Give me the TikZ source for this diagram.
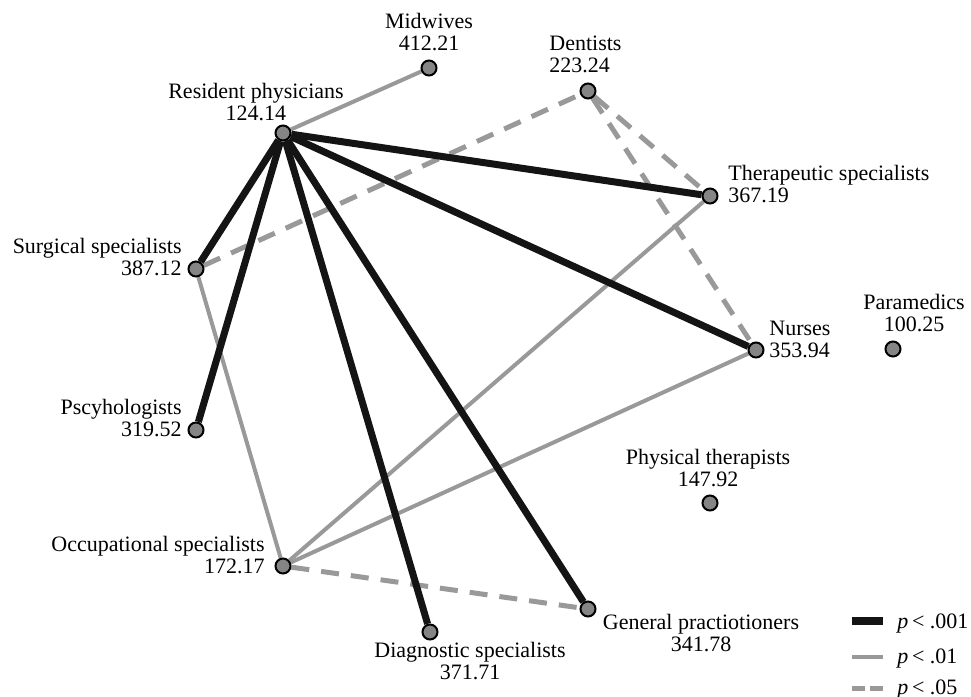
\documentclass[tikz,border=0pt]{standalone}
\usepackage{fontspec}
\setmainfont{Liberation Serif}
\usepackage{tikz}
\usetikzlibrary{backgrounds}
\definecolor{edgegray}{gray}{0.6}
\definecolor{dotgray}{gray}{0.52}
\tikzset{prof/.style={circle,draw=black,line width=1pt,fill=dotgray,inner sep=0pt,minimum size=7.5pt}}
\tikzset{lbl/.style={inner sep=0pt,font=\fontsize{11}{10.8}\selectfont}}
\tikzset{strong/.style={draw=black!92,line width=3.5pt}}
\tikzset{medium/.style={draw=edgegray,line width=2pt}}
\tikzset{weak/.style={draw=edgegray,line width=2.5pt,dash pattern=on 9pt off 6pt}}

\begin{document}
\begin{tikzpicture}[x=0.5pt,y=-0.5pt]
\useasboundingbox (0,0) rectangle (971,697);
% professions
\foreach \n/\px/\py in {RP/283/133, MW/429/68, DE/588/91, TS/710/196, SS/196/269, NU/756/350,
	PM/893/349, PS/196/430, PT/710/503, OS/283/566, DS/430/632, GP/588/609} {
	\node[prof] (\n) at (\px,\py) {};
}
\node[lbl, align=center, anchor=south] (lRP) at (256,121) {Resident physicians\\124.14};
\node[lbl, align=center, anchor=south] (lMW) at (429,51) {Midwives\\412.21};
\node[lbl, align=left, anchor=south west] (lDE) at (549,73) {Dentists\\223.24};
\node[lbl, align=left, anchor=south west] (lTS) at (728,203) {Therapeutic specialists\\367.19};
\node[lbl, align=right, anchor=south east] (lSS) at (182,276) {Surgical specialists\\387.12};
\node[lbl, align=left, anchor=south west] (lNU) at (769,358) {Nurses\\353.94};
\node[lbl, align=center, anchor=south] (lPM) at (914,332) {Paramedics\\100.25};
\node[lbl, align=right, anchor=south east] (lPS) at (182,437) {Pscyhologists\\319.52};
\node[lbl, align=center, anchor=south] (lPT) at (708,487) {Physical therapists\\147.92};
\node[lbl, align=right, anchor=south east] (lOS) at (265,574) {Occupational specialists\\172.17};
\node[lbl, align=center, anchor=south] (lDS) at (470,680) {Diagnostic specialists\\371.71};
\node[lbl, align=center, anchor=south] (lGP) at (701,652) {General practiotioners\\341.78};
\begin{scope}[on background layer]
\foreach \a/\b in {SS/DE, DE/TS, DE/NU, OS/GP} {
	\draw[weak] (\a) -- (\b);
}
\foreach \a/\b in {RP/MW, SS/OS, OS/TS, OS/NU} {
	\draw[medium] (\a) -- (\b);
}
\foreach \b in {TS, NU, SS, PS, DS, GP} {
	\draw[strong] (RP) -- (\b);
}
\end{scope}
% legend
\coordinate (k1a) at (852,621); \coordinate (k1b) at (883,621);
\coordinate (k2a) at (852,657); \coordinate (k2b) at (883,657);
\coordinate (k3a) at (852,688); \coordinate (k3b) at (883,688);
\draw[strong, line width=4pt] (k1a) -- (k1b);
\draw[medium] (k2a) -- (k2b);
\draw[weak, dash pattern=on 6.5pt off 2.5pt] (k3a) -- (k3b);
\node[lbl, anchor=base west] (k1) at (897,628) {\textit{p}\,< .001};
\node[lbl, anchor=base west] (k2) at (897,663) {\textit{p}\,< .01};
\node[lbl, anchor=base west] (k3) at (897,694) {\textit{p}\,< .05};
\end{tikzpicture}
\end{document}
